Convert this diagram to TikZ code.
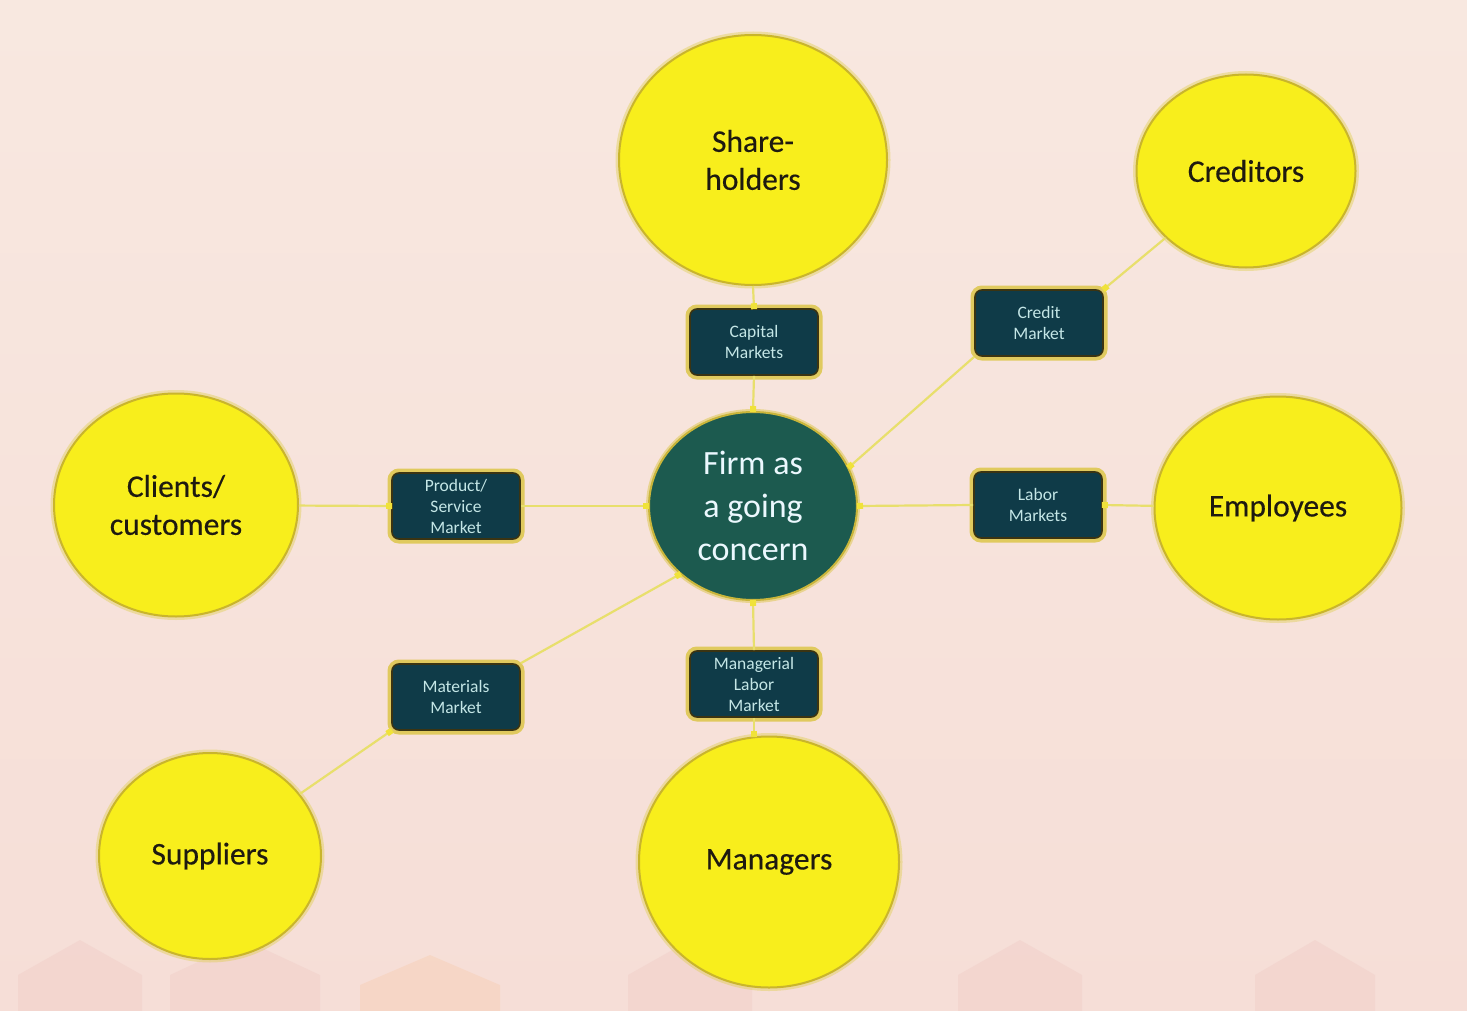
\documentclass[tikz,border=0pt]{standalone}
\usepackage{fontspec}
\setmainfont{Carlito}
\usetikzlibrary{arrows.meta,shapes.geometric,calc}

\definecolor{bgtop}{HTML}{F8E8E0}
\definecolor{bgbot}{HTML}{F6DED7}
\definecolor{hexpink}{HTML}{E6B2AD}
\definecolor{ellfill}{HTML}{F8EE1C}
\definecolor{elledge}{HTML}{C9B52C}
\definecolor{ellglow}{HTML}{E0CF55}
\definecolor{firmfill}{HTML}{1C5A4F}
\definecolor{firmedge}{HTML}{C9B53A}
\definecolor{boxfill}{HTML}{0F3B48}
\definecolor{boxedge}{HTML}{3B3412}
\definecolor{boxglow}{HTML}{D9C235}
\definecolor{boxtext}{HTML}{C4E6E6}
\definecolor{connline}{HTML}{E8DF6C}
\definecolor{conndot}{HTML}{F0E23A}
\definecolor{labeltext}{HTML}{1E1A10}

\tikzset{
  party/.style={ellipse, fill=ellfill, draw=elledge, line width=2pt,
    preaction={draw=ellglow, line width=7pt, opacity=0.45},
    text=labeltext, align=center,
    font=\fontsize{31.5}{38}\selectfont\addfontfeature{FakeBold=0.4}, inner sep=0pt},
  firmnode/.style={ellipse, fill=firmfill, draw=firmedge, line width=2pt,
    preaction={draw=boxglow, line width=6pt, opacity=0.45},
    text=white!92!cyan, align=center, font=\fontsize{34}{43}\selectfont,
    minimum width=208pt, minimum height=188pt, inner sep=0pt},
  market/.style={rectangle, rounded corners=7pt, fill=boxfill, draw=boxedge,
    line width=1.6pt, preaction={draw=boxglow, line width=9pt, opacity=0.75},
    text=boxtext, align=center, font=\fontsize{17.5}{21}\selectfont,
    minimum width=128pt, minimum height=66pt, inner sep=0pt},
  conn/.style={draw=connline, line width=2.2pt,
    -{Square[length=6pt,width=6pt,fill=conndot,color=conndot]}, shorten >=-1pt},
  hexagon/.style={fill=hexpink, opacity=0.18}
}

\begin{document}
\begin{tikzpicture}[x=1pt,y=-1pt]
  % page and background
  \useasboundingbox (0,0) rectangle (1467,1011);
  \shade[top color=bgtop, bottom color=bgbot] (0,0) rectangle (1467,1011);
  % faint tiles along the lower edge
  \foreach \cx/\w in {80/62, 245/75, 690/62, 1020/62, 1315/60} {
    \fill[hexagon] (\cx-\w,1011) -- (\cx-\w,975) -- (\cx,940) -- (\cx+\w,975) -- (\cx+\w,1011) -- cycle;
  }
  \fill[orange!25!bgbot, opacity=0.3] (360,1011) -- (360,985) -- (430,955) -- (500,985) -- (500,1011) -- cycle;

  % stakeholders
  \node[party, minimum width=268pt, minimum height=250pt] (share) at (753,160) {Share-\\holders};
  \node[party, minimum width=219pt, minimum height=193pt] (cred)  at (1246,171) {Creditors};
  \node[party, minimum width=244pt, minimum height=223pt] (cli)   at (176,505) {Clients/\\customers};
  \node[party, minimum width=247pt, minimum height=223pt] (emp)   at (1278,508) {Employees};
  \node[party, minimum width=222pt, minimum height=206pt] (sup)   at (210,856) {Suppliers};
  \node[party, minimum width=260pt, minimum height=251pt] (mgr)   at (769,862) {Managers};

  % the firm
  \node[firmnode] (firm) at (753,506) {Firm as\\a going\\concern};

  % markets
  \node[market] (cap)    at (754,342)  {Capital\\Markets};
  \node[market] (credm)  at (1039,323) {Credit\\Market};
  \node[market] (prod)   at (456,506)  {Product/\\Service\\Market};
  \node[market] (labor)  at (1038,505) {Labor\\Markets};
  \node[market] (mat)    at (456,697)  {Materials\\Market};
  \node[market] (mgrlab) at (754,684)  {Managerial\\Labor\\Market};

  % connectors
  \draw[conn] (share.south) -- (cap.north);
  \draw[conn] (cap.south) -- (firm.north);
  \draw[conn] (cred) -- (credm.north east);
  \draw[conn] (credm.south west) -- (firm.22);
  \draw[conn] (cli) -- (prod.west);
  \draw[conn] (prod.east) -- (firm.west);
  \draw[conn] (emp) -- (labor.east);
  \draw[conn] (labor.west) -- (firm.east);
  \draw[conn] (mat.north east) -- (firm.223);
  \draw[conn] (sup) -- (mat.south west);
  \draw[conn] (mgrlab.north) -- (firm.south);
  \draw[conn] (mgrlab.south) -- (mgrlab.south |- mgr.north);
\end{tikzpicture}
\end{document}
